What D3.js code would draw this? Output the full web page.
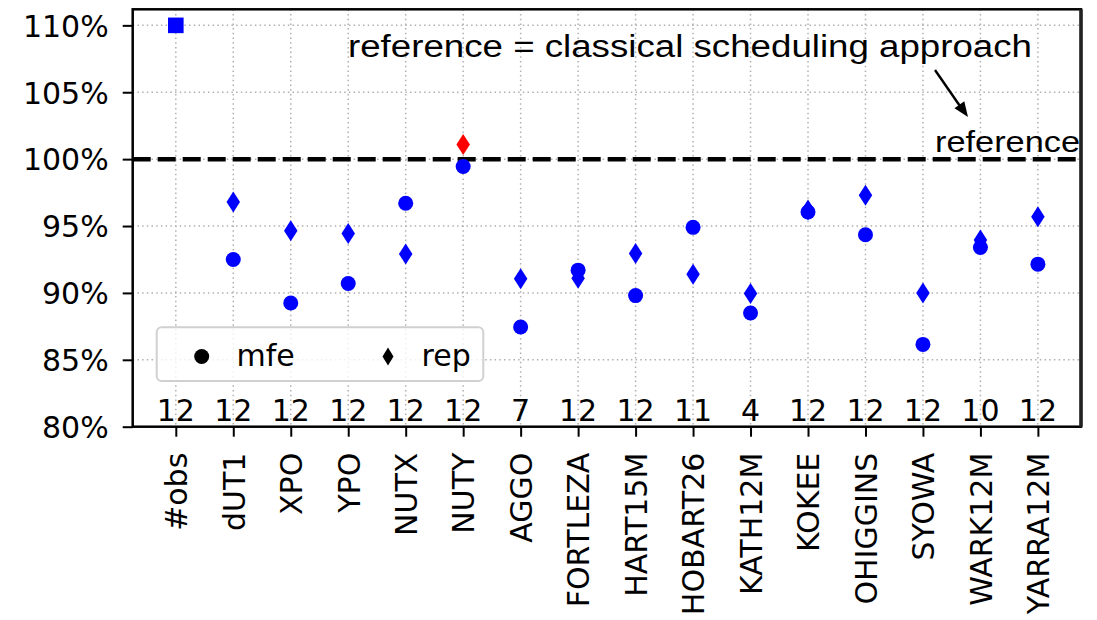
<!DOCTYPE html>
<html>
<head>
<meta charset="utf-8">
<script src="https://cdn.jsdelivr.net/npm/d3@7"></script>
<style>
  body { margin: 0; background: #fff; }
  svg { display: block; }
  text { font-family: "DejaVu Sans", sans-serif; fill: #000; }
</style>
</head>
<body>
<div id="chart"></div>
<script>
// categories on the x axis
const categories = ["#obs", "dUT1", "XPO", "YPO", "NUTX", "NUTY", "AGGO", "FORTLEZA", "HART15M",
  "HOBART26", "KATH12M", "KOKEE", "OHIGGINS", "SYOWA", "WARK12M", "YARRA12M"];
// relative values in percent (null = no marker)
const mfeValues = [null, 92.5, 89.25, 90.7, 96.7, 99.45, 87.45, 91.7, 89.8, 94.9, 88.5, 96.05, 94.35, 86.15, 93.4, 92.15];
const repValues = [null, 96.8, 94.65, 94.45, 92.9, 101.1, 91.05, 91.1, 92.95, 91.4, 89.95, 96.2, 97.3, 90.0, 93.95, 95.7];
const obsCounts = [12, 12, 12, 12, 12, 12, 7, 12, 12, 11, 4, 12, 12, 12, 10, 12];
const obsMarker = [{ idx: 0, value: 110 }];
const yTicks = [80, 85, 90, 95, 100, 105, 110];
const referenceValue = 100;

const W = 1097, H = 620;
const pLeft = 132.7, pRight = 1081, pTop = 9.3, pBottom = 426.7;

const svg = d3.select("#chart").append("svg")
  .attr("width", W).attr("height", H);

const x = d3.scaleLinear().domain([-0.75, categories.length - 0.25]).range([pLeft, pRight]);
const y = d3.scaleLinear().domain([80, 111.2]).range([pBottom, pTop]);

// thin diamond like matplotlib's "d"
const thinDiamond = (w, h) => `M0,${-h / 2}L${w / 2},0L0,${h / 2}L${-w / 2},0Z`;

// grid
const grid = svg.append("g").attr("stroke", "#b0b0b0").attr("stroke-width", 1.5)
  .attr("stroke-dasharray", "1.5,3.2");
grid.selectAll("line.gx").data(categories).enter().append("line")
  .attr("x1", (d, i) => x(i)).attr("x2", (d, i) => x(i))
  .attr("y1", pTop).attr("y2", pBottom);
grid.selectAll("line.gy").data(yTicks).enter().append("line")
  .attr("x1", pLeft).attr("x2", pRight)
  .attr("y1", d => y(d)).attr("y2", d => y(d));

// reference line
svg.append("line")
  .attr("x1", pLeft).attr("x2", pRight)
  .attr("y1", y(referenceValue)).attr("y2", y(referenceValue))
  .attr("stroke", "#000").attr("stroke-width", 4.5)
  .attr("stroke-dasharray", "18,7");

// count labels
svg.append("g").selectAll("text").data(obsCounts).enter().append("text")
  .attr("x", (d, i) => x(i)).attr("y", 421)
  .attr("text-anchor", "middle").style("font-size", "30px")
  .text(d => d);

// legend
const lg = svg.append("g");
lg.append("rect").attr("x", 156.7).attr("y", 327.3).attr("width", 326.6).attr("height", 53.7)
  .attr("rx", 5).attr("fill", "#fff").attr("fill-opacity", 0.8)
  .attr("stroke", "#d0d0d0").attr("stroke-width", 2);
lg.append("circle").attr("cx", 201.7).attr("cy", 356.5).attr("r", 7.5).attr("fill", "#000");
lg.append("path").attr("d", thinDiamond(11, 18))
  .attr("transform", "translate(388,356.5)").attr("fill", "#000");
lg.append("text").attr("x", 236.5).attr("y", 366).style("font-size", "30px").text("mfe");
lg.append("text").attr("x", 421.5).attr("y", 366).style("font-size", "30px").text("rep");

// markers
svg.append("g").selectAll("path").data(repValues.map((v, i) => ({ v, i })).filter(d => d.v != null))
  .enter().append("path")
  .attr("d", thinDiamond(13.5, 21))
  .attr("transform", d => `translate(${x(d.i)},${y(d.v)})`)
  .attr("fill", d => d.v > referenceValue ? "#ff0000" : "#0000ff");
svg.append("g").selectAll("circle").data(mfeValues.map((v, i) => ({ v, i })).filter(d => d.v != null))
  .enter().append("circle")
  .attr("cx", d => x(d.i)).attr("cy", d => y(d.v)).attr("r", 7.5)
  .attr("fill", "#0000ff");
svg.append("g").selectAll("rect").data(obsMarker).enter().append("rect")
  .attr("x", d => x(d.idx) - 7.8).attr("y", d => y(d.value) - 7.8)
  .attr("width", 15.6).attr("height", 15.6).attr("fill", "#0000ff");

// annotation
svg.append("text").attr("x", 348).attr("y", 57)
  .attr("textLength", 684).attr("lengthAdjust", "spacingAndGlyphs")
  .style("font-family", "'Liberation Sans', Arial, sans-serif").style("font-size", "31px")
  .text("reference = classical scheduling approach");
svg.append("text").attr("x", 935).attr("y", 151.5)
  .attr("textLength", 145).attr("lengthAdjust", "spacingAndGlyphs")
  .style("font-family", "'Liberation Sans', Arial, sans-serif").style("font-size", "29px")
  .text("reference");
svg.append("line").attr("x1", 935).attr("y1", 70).attr("x2", 962).attr("y2", 109)
  .attr("stroke", "#000").attr("stroke-width", 2.4);
svg.append("path").attr("d", "M0,0 L-15,-6 L-15,6 z").attr("fill", "#000")
  .attr("transform", `translate(968,117) rotate(${Math.atan2(47, 33) * 180 / Math.PI})`);

// axes
const yAxis = svg.append("g").attr("transform", `translate(${pLeft},0)`)
  .call(d3.axisLeft(y).tickValues(yTicks).tickFormat(d => d + "%").tickSize(10).tickPadding(14));
const xAxis = svg.append("g").attr("transform", `translate(0,${pBottom})`)
  .call(d3.axisBottom(x).tickValues(d3.range(categories.length)).tickFormat(i => categories[i]).tickSize(10));
[yAxis, xAxis].forEach(a => {
  a.select(".domain").remove();
  a.selectAll(".tick line").attr("stroke", "#000").attr("stroke-width", 2);
  a.selectAll(".tick text").style("font-size", "30px").style("font-family", "'DejaVu Sans', sans-serif");
});
yAxis.selectAll(".tick text").attr("dy", "0.36em");
xAxis.selectAll(".tick text")
  .attr("transform", "rotate(-90)")
  .attr("x", -26).attr("y", 0).attr("dy", "0.36em")
  .attr("text-anchor", "end");

// frame
svg.append("rect").attr("x", pLeft).attr("y", pTop)
  .attr("width", pRight - pLeft).attr("height", pBottom - pTop)
  .attr("fill", "none").attr("stroke", "#000").attr("stroke-width", 2.5);
svg.append("line").attr("x1", pRight).attr("x2", pRight).attr("y1", pTop).attr("y2", pBottom)
  .attr("stroke", "#222").attr("stroke-width", 3.5);
</script>
</body>
</html>
